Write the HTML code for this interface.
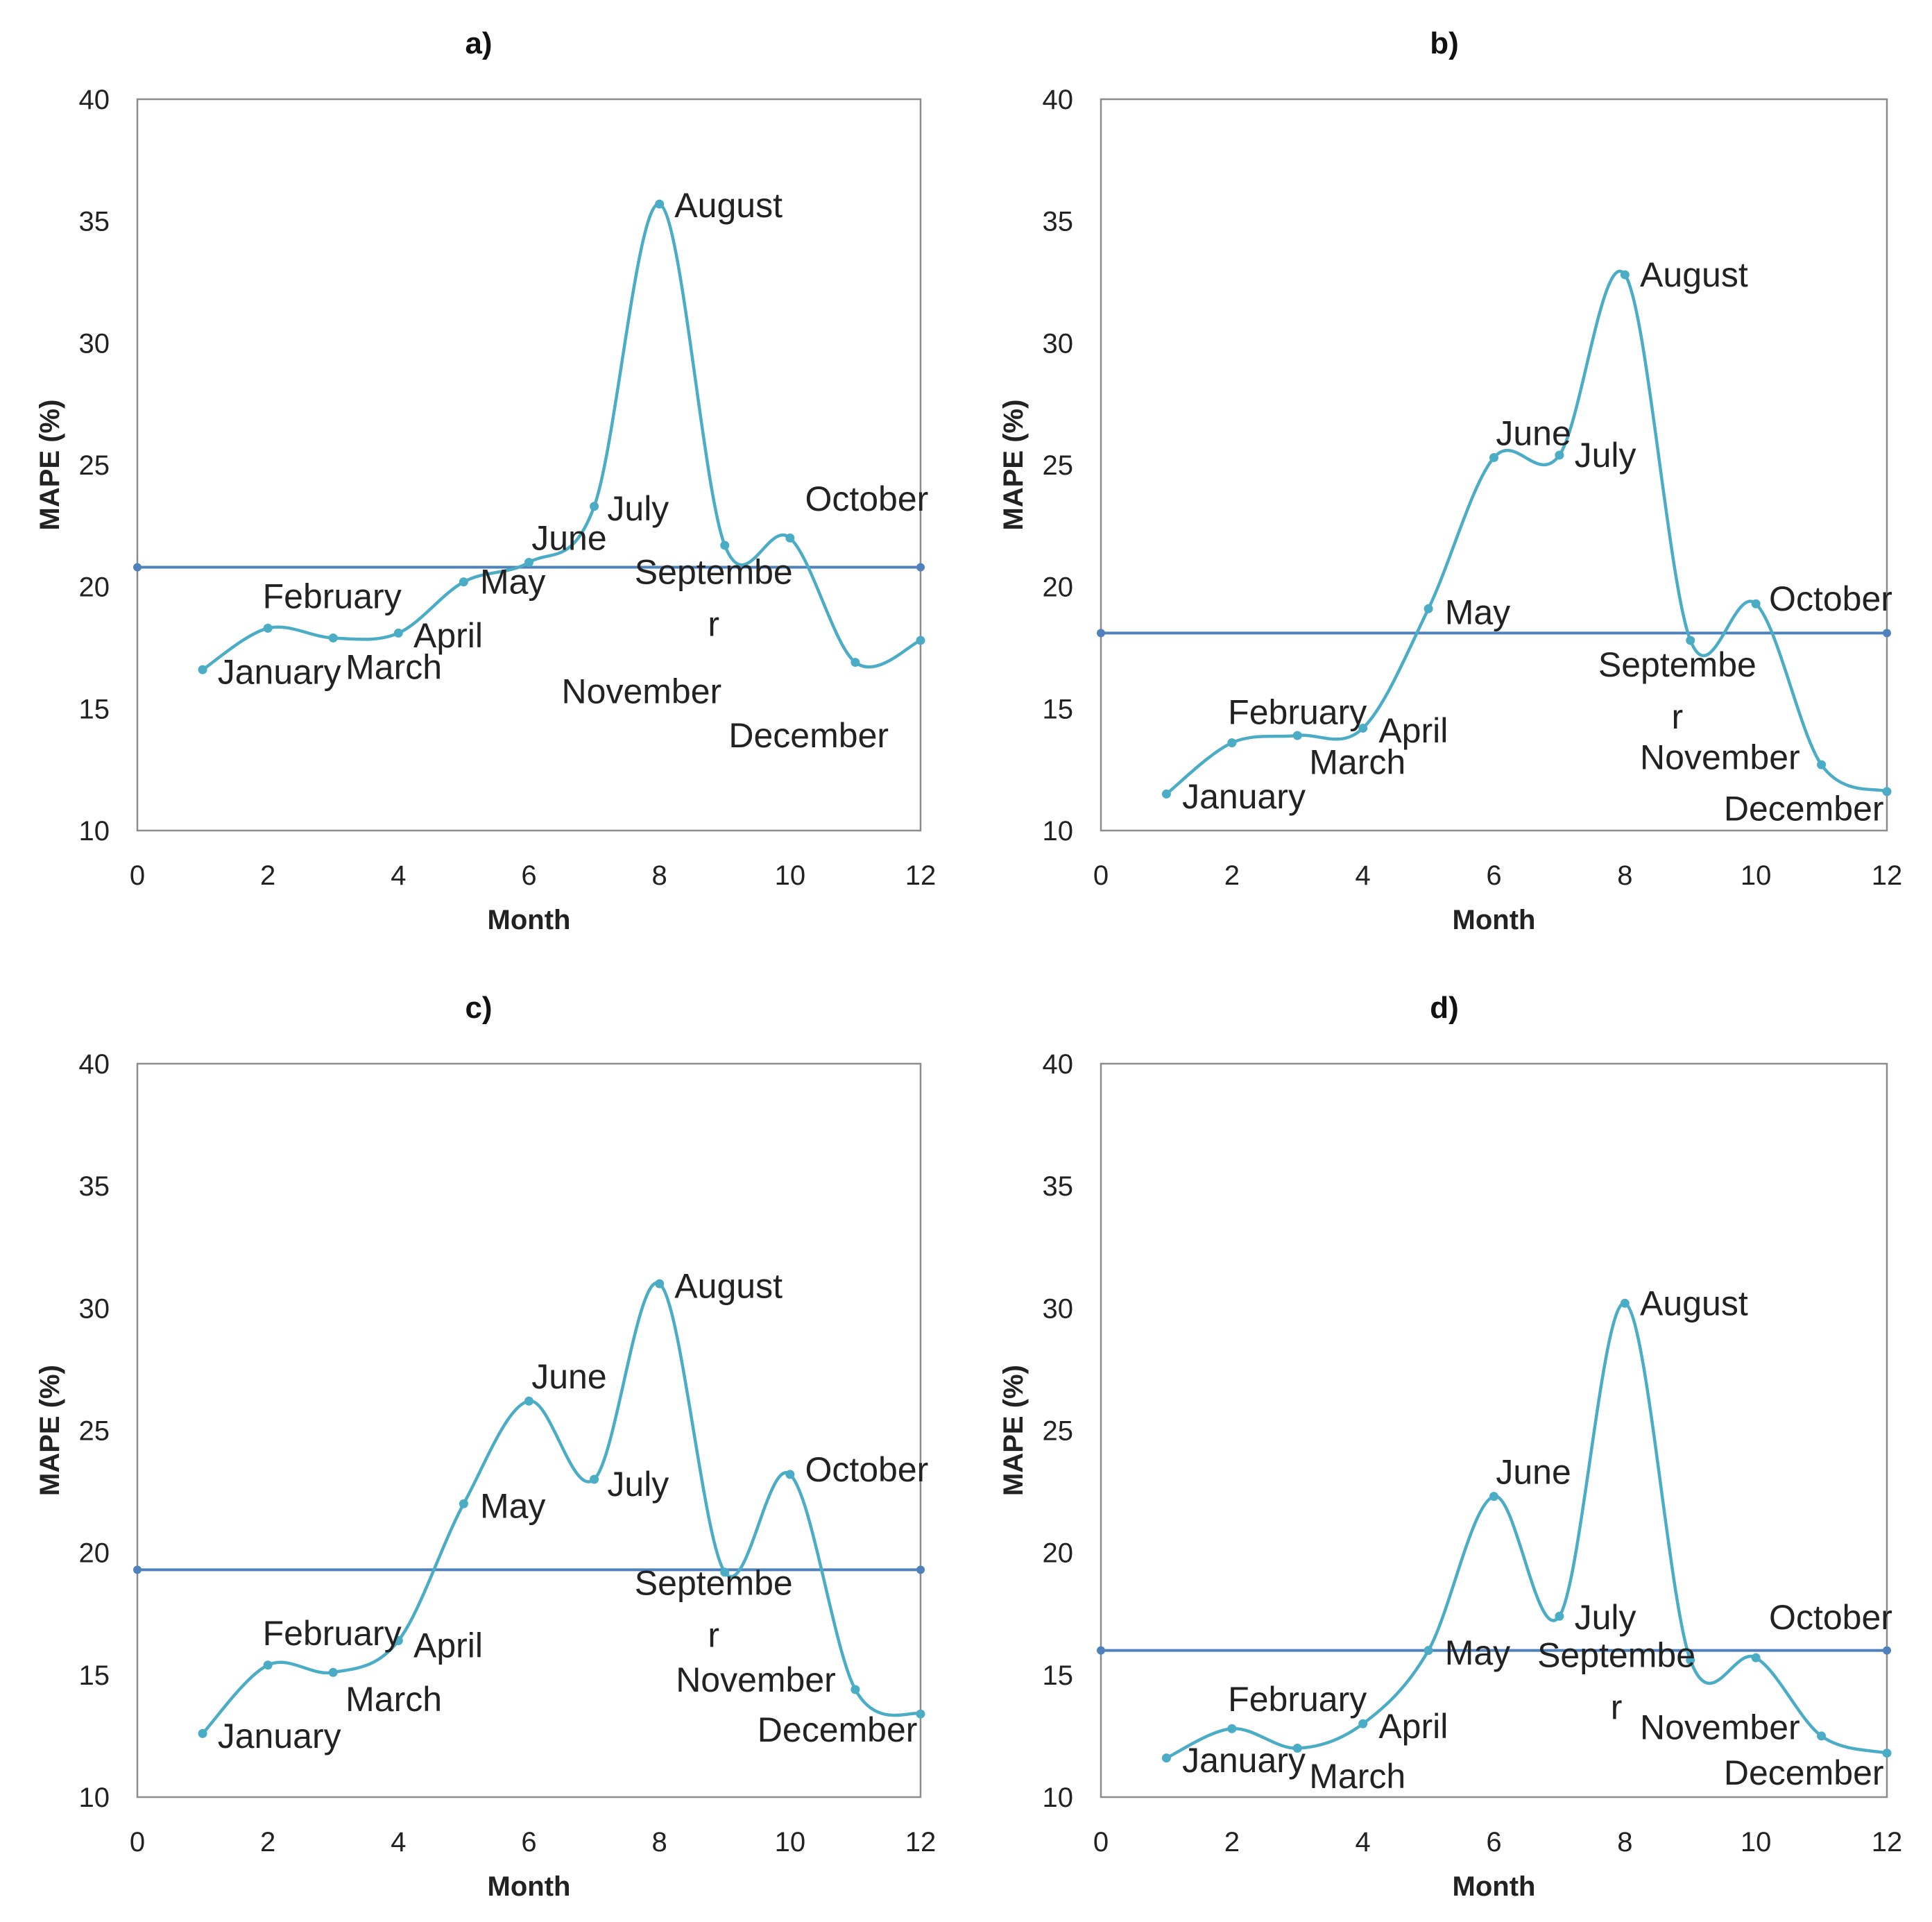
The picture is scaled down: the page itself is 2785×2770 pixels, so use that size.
<!DOCTYPE html>
<html><head><meta charset="utf-8">
<style>
html,body{margin:0;padding:0;background:#fff;}
svg{display:block;}
</style></head>
<body>
<svg id="chart" xmlns="http://www.w3.org/2000/svg" width="2785" height="2770" viewBox="0 0 2785 2770" font-family="'Liberation Sans', sans-serif"></svg>
<script>
const months = ["January","February","March","April","May","June","July","August","September","October","November","December"];
const monthNums = [1,2,3,4,5,6,7,8,9,10,11,12];
const xTicks = [0,2,4,6,8,10,12];
const yTicks = [10,15,20,25,30,35,40];

const valuesA = [16.6,18.3,17.9,18.1,20.2,21.0,23.3,35.7,21.7,22.0,16.9,17.8];
const meanA = 20.8;
const valuesB = [11.5,13.6,13.9,14.2,19.1,25.3,25.4,32.8,17.8,19.3,12.7,11.6];
const meanB = 18.1;
const valuesC = [12.6,15.4,15.1,16.4,22.0,26.2,23.0,31.0,19.2,23.2,14.4,13.4];
const meanC = 19.3;
const valuesD = [11.6,12.8,12.0,13.0,16.0,22.3,17.4,30.2,15.6,15.7,12.5,11.8];
const meanD = 16.0;

const labXA=[1.23,1.92,3.19,4.23,5.25,6.04,7.2,8.23,8.83,10.23,6.5,9.06];
const labYA=[16.5,19.6,16.7,18.0,20.2,22.0,23.2,35.65,20.6,23.6,15.7,13.9];
const labXB=[1.24,1.94,3.18,4.24,5.25,6.03,7.23,8.23,8.8,10.2,8.23,9.51];
const labYB=[11.4,14.85,12.8,14.1,18.95,26.3,25.4,32.8,16.8,19.5,13.0,10.9];
const labXC=[1.23,1.92,3.19,4.23,5.25,6.04,7.2,8.23,8.83,10.23,8.25,9.5];
const labYC=[12.5,16.7,14.0,16.2,21.9,27.2,22.8,30.9,18.75,23.4,14.8,12.75];
const labXD=[1.24,1.94,3.18,4.24,5.25,6.03,7.23,8.23,7.87,10.2,8.23,9.51];
const labYD=[11.5,14.0,10.85,12.9,15.9,23.3,17.35,30.2,15.8,17.35,12.85,11.0];

const panels = [
 {id:"a", title:"a)", vals:valuesA, mean:meanA, lx:labXA, ly:labYA, L:198, R:1327, T:143, B:1197, tx:690},
 {id:"b", title:"b)", vals:valuesB, mean:meanB, lx:labXB, ly:labYB, L:1587, R:2720, T:143, B:1197, tx:2082},
 {id:"c", title:"c)", vals:valuesC, mean:meanC, lx:labXC, ly:labYC, L:198, R:1327, T:1533, B:2590, tx:690},
 {id:"d", title:"d)", vals:valuesD, mean:meanD, lx:labXD, ly:labYD, L:1587, R:2720, T:1533, B:2590, tx:2082}
];
const NS="http://www.w3.org/2000/svg";
const svg=document.getElementById('chart');
function mk(tag,attrs,parent,text){const e=document.createElementNS(NS,tag);for(const k in attrs)e.setAttribute(k,attrs[k]);if(text!==undefined)e.textContent=text;parent.appendChild(e);return e;}

panels.forEach(p=>{
  const g=mk('g',{},svg);
  
  
  const sx=v=>p.L+(v-0)/12*(p.R-p.L);
  const sy=v=>p.B-(v-10)/30*(p.B-p.T);
  const t=mk('text',{x:p.tx,y:p.T-66,'text-anchor':'middle','font-size':44,'font-weight':'bold',fill:'#111'},g,p.title);
  
  
  const fr=mk('rect',{x:p.L,y:p.T,width:p.R-p.L,height:p.B-p.T,fill:'none',stroke:'#8c8c8c','stroke-width':2.5},g);
  
  
  yTicks.forEach(v=>{
    const e=mk('text',{x:p.L-40,y:sy(v)+14,'text-anchor':'end','font-size':40,fill:'#222'},g,String(v));
    
    
  });
  xTicks.forEach(v=>{
    const e=mk('text',{x:sx(v),y:p.B+78,'text-anchor':'middle','font-size':40,fill:'#222'},g,String(v));
    
    
  });
  const xt=mk('text',{x:(p.L+p.R)/2,y:p.B+142,'text-anchor':'middle','font-size':40,'font-weight':'bold',fill:'#222'},g,'Month');
  
  
  const yx=p.L-113, yy=(p.T+p.B)/2;
  const yt=mk('text',{x:yx,y:yy,'text-anchor':'middle','font-size':40,'font-weight':'bold',fill:'#222',transform:`rotate(-90 ${yx} ${yy})`},g,'MAPE (%)');
  
  
  const ml=mk('line',{x1:sx(0),x2:sx(12),y1:sy(p.mean),y2:sy(p.mean),stroke:'#4f81bd','stroke-width':4},g);
  
  
  [0,12].forEach(v=>{const c=mk('circle',{cx:sx(v),cy:sy(p.mean),r:6,fill:'#4f81bd'},g);
    
    });
  const pts=monthNums.map((m,i)=>[sx(m),sy(p.vals[i])]);
  let d=`M${pts[0][0]},${pts[0][1]}`;
  for(let i=0;i<pts.length-1;i++){
    const p0=pts[i-1]||pts[i],p1=pts[i],p2=pts[i+1],p3=pts[i+2]||pts[i+1];
    const c1=[p1[0]+(p2[0]-p0[0])/6,p1[1]+(p2[1]-p0[1])/6];
    const c2=[p2[0]-(p3[0]-p1[0])/6,p2[1]-(p3[1]-p1[1])/6];
    d+=` C${c1[0]},${c1[1]} ${c2[0]},${c2[1]} ${p2[0]},${p2[1]}`;
  }
  const cv=mk('path',{d:d,fill:'none',stroke:'#4bacc6','stroke-width':4.5},g);
  
  
  pts.forEach(q=>{const c=mk('circle',{cx:q[0],cy:q[1],r:6.5,fill:'#4bacc6'},g);
    
    });
  months.forEach((m,i)=>{
    const x=sx(p.lx[i]), y=sy(p.ly[i]);
    if(m==="September"){
      const e=mk('text',{x:x,y:y+17,'text-anchor':'middle','font-size':50,fill:'#222'},g,'Septembe');
      
      
      const e2=mk('text',{x:x,y:y+17+75,'text-anchor':'middle','font-size':50,fill:'#222'},g,'r');
      
      
    } else {
      const e=mk('text',{x:x,y:y+17,'font-size':50,fill:'#222'},g,m);
      
      
    }
  });
});
</script>
</body></html>
